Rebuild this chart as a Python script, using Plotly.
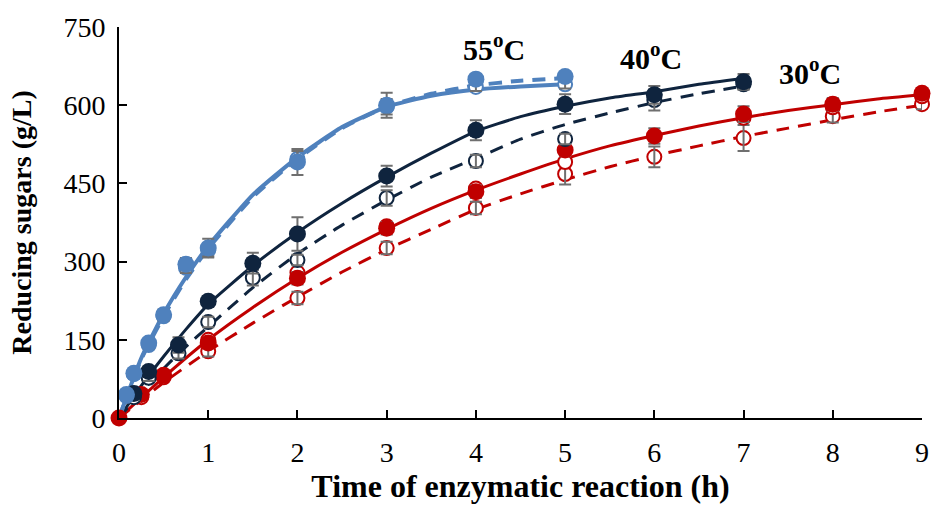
import plotly.graph_objects as go

# ---------------- data ----------------
# 55 C
t55_f = [0.083, 0.167, 0.333, 0.5, 0.75, 1, 2, 3, 4, 5]
v55_f = [45, 86, 144, 198, 295, 326, 491, 600, 650, 655]
e55_f = [6, 6, 8, 10, 12, 18, 25, 24, 10, 8]
t55_o = [0.083, 0.167, 0.333, 0.5, 0.75, 1, 2, 3, 4, 5]
v55_o = [42, 84, 140, 195, 288, 322, 497, 597, 635, 640]
e55_o = [5, 5, 6, 8, 10, 12, 15, 15, 8, 8]
fit55_t = [0, 0.25, 0.5, 0.75, 1, 1.5, 2, 2.5, 3, 3.5, 4, 4.5, 5]
fit55_s = [0, 115, 200, 270, 330, 428, 500, 558, 597, 618, 630, 636, 640]
fit55_d = [0, 113, 195, 266, 325, 424, 497, 556, 597, 622, 638, 647, 652]

# 40 C
t40_f = [0.167, 0.333, 0.667, 1, 1.5, 2, 3, 4, 5, 6, 7]
v40_f = [47, 89, 140, 224, 297, 353, 464, 552, 602, 620, 645]
e40_f = [6, 8, 15, 10, 20, 32, 20, 19, 19, 17, 15]
t40_o = [0.167, 0.333, 0.667, 1, 1.5, 2, 3, 4, 5, 6, 7]
v40_o = [40, 77, 124, 184, 269, 303, 422, 493, 535, 610, 640]
e40_o = [5, 6, 10, 10, 15, 10, 15, 12, 10, 20, 10]
fit40_t = [0, 0.25, 0.5, 0.75, 1, 1.5, 2, 2.5, 3, 3.5, 4, 4.5, 5, 5.5, 6, 6.5, 7]
fit40_s = [0, 62, 118, 170, 218, 292, 356, 412, 462, 508, 550, 578, 598, 614, 626, 640, 651]
fit40_d = [0, 50, 95, 137, 175, 250, 315, 370, 418, 462, 498, 535, 563, 585, 605, 622, 637]

# 30 C
t30_f = [0, 0.25, 0.5, 1, 2, 3, 4, 5, 6, 7, 8, 9]
v30_f = [0, 45, 82, 144, 268, 364, 434, 514, 541, 583, 602, 623]
e30_f = [0, 6, 8, 10, 12, 12, 12, 12, 15, 15, 12, 10]
t30_r = [1, 2, 3, 4, 5, 7, 8, 9]
v30_r = [150, 279, 368, 440, 491, 576, 596, 617]
t30_o = [0.25, 0.5, 1, 2, 3, 4, 5, 6, 7, 8, 9]
v30_o = [40, 78, 128, 230, 326, 403, 468, 501, 537, 579, 602]
e30_o = [5, 6, 10, 12, 12, 12, 20, 20, 25, 12, 10]
fit30_t = [0, 0.5, 1, 1.5, 2, 2.5, 3, 3.5, 4, 4.5, 5, 5.5, 6, 6.5, 7, 7.5, 8, 8.5, 9]
fit30_s = [0, 78, 150, 212, 268, 318, 362, 402, 437, 468, 497, 522, 542, 560, 576, 590, 601, 612, 620]
fit30_d = [0, 68, 128, 182, 232, 280, 323, 362, 400, 430, 457, 482, 503, 522, 540, 556, 572, 587, 600]

labels = ["55<sup>o</sup>C", "40<sup>o</sup>C", "30<sup>o</sup>C"]
label_x = [4.2, 5.96, 7.75]
label_y = [712, 694, 666]

x_ticks = list(range(10))
y_ticks = [0, 150, 300, 450, 600, 750]

# ---------------- style ----------------
C55 = "#4f81bd"
C40 = "#0f243e"
C30 = "#c00000"
EB = "#6f6f6f"
FONT = "Liberation Serif, Times New Roman, serif"

fig = go.Figure()


def line(t, v, color, width, dash):
    fig.add_trace(go.Scatter(x=t, y=v, mode="lines",
                             line=dict(color=color, width=width, dash=dash, shape="spline", smoothing=0.5),
                             hoverinfo="skip", showlegend=False, cliponaxis=False))


def pts(t, v, color, filled, e=None, size=17):
    if filled:
        m = dict(color=color, size=size, line=dict(width=0))
    else:
        m = dict(color="white", size=size - 3, line=dict(color=color, width=2))
    kw = {}
    if e is not None:
        kw["error_y"] = dict(type="data", array=e, color=EB, thickness=2, width=6)
    fig.add_trace(go.Scatter(x=t, y=v, mode="markers", marker=m, showlegend=False, cliponaxis=False, **kw))


def err(t, v, e):
    fig.add_trace(go.Scatter(x=t, y=v, mode="markers", marker=dict(color="rgba(0,0,0,0)", size=1),
                             error_y=dict(type="data", array=e, color=EB, thickness=2, width=6),
                             showlegend=False, cliponaxis=False, hoverinfo="skip"))


DASH = "13px,9px"
line(fit30_t, fit30_d, C30, 3, DASH)
line(fit30_t, fit30_s, C30, 3, "solid")
line(fit40_t, fit40_d, C40, 3, DASH)
line(fit40_t, fit40_s, C40, 3, "solid")
line(fit55_t, fit55_d, C55, 4, DASH)
line(fit55_t, fit55_s, C55, 4, "solid")

pts(t30_o, v30_o, C30, False)
err(t30_o, v30_o, e30_o)
pts(t30_r, v30_r, C30, False)
pts(t30_f, v30_f, C30, True, e30_f)

pts(t40_o, v40_o, C40, False)
err(t40_o, v40_o, e40_o)
pts(t40_f, v40_f, C40, True, e40_f)

pts(t55_o, v55_o, C55, False)
err(t55_o, v55_o, e55_o)
pts(t55_f, v55_f, C55, True, e55_f)

for lab, x, y in zip(labels, label_x, label_y):
    fig.add_annotation(x=x, y=y, text="<b>" + lab + "</b>", showarrow=False,
                       font=dict(family=FONT, size=30, color="black"), xanchor="center", yanchor="middle")

fig.update_layout(
    width=933, height=509,
    margin=dict(l=119, r=11, t=27, b=91, autoexpand=False),
    paper_bgcolor="white", plot_bgcolor="white",
    font=dict(family=FONT, color="black"),
    xaxis=dict(range=[0, 9], tickmode="array", tickvals=x_ticks, ticktext=[str(i) for i in x_ticks],
               ticks="inside", ticklen=8, tickwidth=2, tickcolor="black", automargin=False,
               showline=True, linecolor="black", linewidth=2, showgrid=False, zeroline=False,
               tickfont=dict(family=FONT, size=28), ticklabelstandoff=8,
               title=dict(text="<b>Time of enzymatic reaction (h)</b>", font=dict(family=FONT, size=32), standoff=6)),
    yaxis=dict(range=[0, 750], tickmode="array", tickvals=y_ticks,
               ticks="inside", ticklen=8, tickwidth=2, tickcolor="black", automargin=False,
               showline=True, linecolor="black", linewidth=2, showgrid=False, zeroline=False,
               tickfont=dict(family=FONT, size=28), ticklabelstandoff=6,
               title=dict(text="<b>Reducing sugars (g/L)</b>", font=dict(family=FONT, size=28), standoff=24)),
)

fig.write_html("out.html", config={"displayModeBar": False}, post_script=(
    "document.body.style.margin='0';"
    "document.body.style.overflow='hidden';"
    "document.documentElement.style.overflow='hidden';"
))
